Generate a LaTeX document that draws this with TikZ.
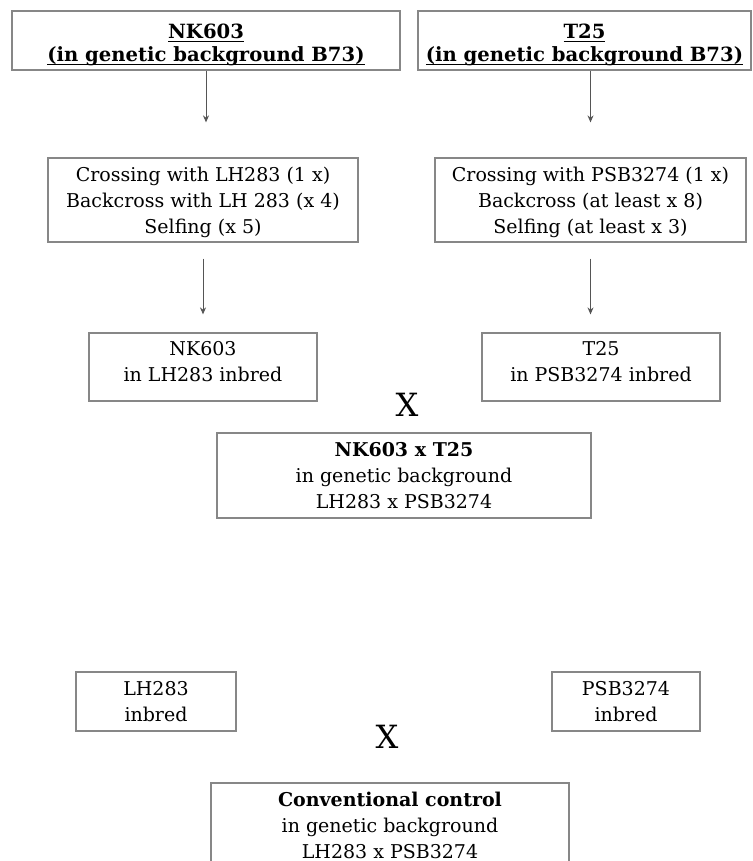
\documentclass[tikz,border=0pt]{standalone}
\usepackage{fontspec}
\setmainfont{DejaVu Serif}
\usetikzlibrary{arrows.meta}
\definecolor{boxgray}{RGB}{135,135,135}
\definecolor{arrowgray}{RGB}{85,85,85}
\newcommand{\headrule}[1]{\setbox0\hbox{#1}\rlap{\rule[-1.6pt]{\wd0}{0.5pt}}\box0}

\begin{document}
\begin{tikzpicture}[x=0.5pt, y=-0.5pt,
    block/.style={draw=boxgray, line width=0.6pt, rectangle, align=center, inner sep=0pt, font=\fontsize{9.5}{13}\selectfont},
    head/.style={block, font=\fontsize{9.8}{11.5}\selectfont\bfseries},
    arrow/.style={-{Stealth[length=3.5pt, width=3pt]}, draw=arrowgray, line width=0.5pt},
    cross/.style={font=\fontsize{16}{16}\selectfont}]

    \useasboundingbox (0,0) rectangle (753,861);
    \clip (0,0) rectangle (753,861);

    % Nodes
    \node[head, minimum width=194pt, minimum height=29.5pt] (nk) at (206,40.5) {\rule{0pt}{12pt}\headrule{NK603}\\\headrule{(in genetic background B73)}};
    \node[head, minimum width=166.5pt, minimum height=29.5pt] (t25) at (584.5,40.5) {\rule{0pt}{12pt}\headrule{T25}\\\headrule{(in genetic background B73)}};
    \node[block, minimum width=155pt, minimum height=42pt] (nkcross) at (203,200) {\rule{0pt}{10pt}Crossing with LH283 (1 x)\\Backcross with LH 283 (x 4)\\Selfing (x 5)};
    \node[block, minimum width=155.5pt, minimum height=42pt] (tcross) at (590.5,200) {\rule{0pt}{10pt}Crossing with PSB3274 (1 x)\\Backcross (at least x 8)\\Selfing (at least x 3)};
    \node[block, minimum width=114pt, minimum height=34pt] (nklh) at (203,367) {NK603\\in LH283 inbred\rule[-6pt]{0pt}{1pt}};
    \node[block, minimum width=119pt, minimum height=34pt] (tpsb) at (601,367) {T25\\in PSB3274 inbred\rule[-6pt]{0pt}{1pt}};
    \node[cross] (xa) at (407,405) {X};
    \node[block, minimum width=187pt, minimum height=42.5pt] (hybrid) at (404,475.5) {\textbf{NK603 x T25}\\in genetic background\\LH283 x PSB3274};
    \node[block, minimum width=80pt, minimum height=29.5pt] (lh) at (156,701.5) {LH283\\inbred};
    \node[block, minimum width=74pt, minimum height=29.5pt] (psb) at (626,701.5) {PSB3274\\inbred};
    \node[cross] (xb) at (387,737) {X};
    \node[block, minimum width=179pt, minimum height=42pt] (control) at (390,825) {\textbf{Conventional control}\\in genetic background\\LH283 x PSB3274};

    % Arrows
    \draw[arrow, shorten >=17.5pt] (nk.south) -- (nk.south |- nkcross.north);
    \draw[arrow, shorten >=17.5pt] (tcross.north |- t25.south) -- (tcross.north);
    \draw[arrow, shorten <=8pt, shorten >=9pt] (nkcross.south) -- (nkcross.south |- nklh.north);
    \draw[arrow, shorten <=8pt, shorten >=9pt] (tcross.south) -- (tcross.south |- tpsb.north);
\end{tikzpicture}
\end{document}
